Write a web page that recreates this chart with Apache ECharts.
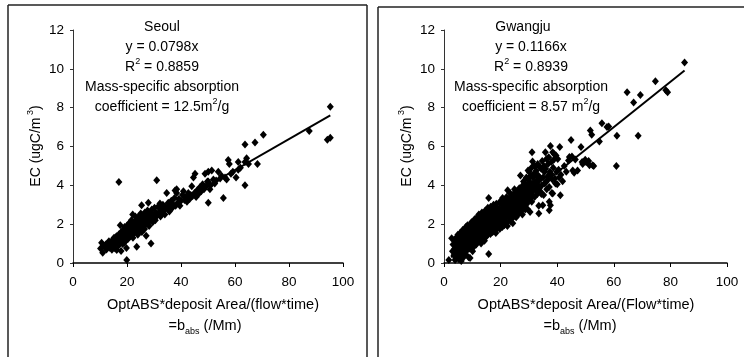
<!DOCTYPE html>
<html>
<head>
<meta charset="utf-8">
<script src="https://cdn.jsdelivr.net/npm/echarts@6/dist/echarts.min.js"></script>
<style>
html,body{margin:0;padding:0;background:#fff;}
#chart{width:744px;height:357px;}
</style>
</head>
<body>
<div id="chart"></div>
<script>
// ---- Data ----
const xTicks = [0, 20, 40, 60, 80, 100];
const yTicks = [0, 2, 4, 6, 8, 10, 12];

const seoulSlope = 0.0798;
const seoulFitRange = [10, 95.3];
const seoulPoints = [
[10.2,0.75],[10.6,1.04],[11.0,0.53],[11.3,0.9],[11.8,0.82],[12.1,0.95],[12.4,0.7],[12.8,1.0],[13.0,0.88],[13.3,1.12],
[13.6,0.78],[13.9,0.95],[14.2,1.05],[14.4,0.68],[14.7,1.2],[15.0,0.9],[15.2,1.3],[15.4,1.0],[15.6,0.75],[15.9,1.15],
[16.1,1.38],[16.2,0.67],[16.4,1.05],[16.7,1.25],[16.9,0.9],[17.0,4.17],[17.1,1.5],[17.3,1.1],[17.5,1.95],[17.6,1.32],
[17.8,0.62],[17.9,1.6],[18.1,1.2],[18.3,1.45],[18.4,0.98],[18.6,1.7],[18.8,1.3],[19.0,1.05],[19.1,1.85],[19.3,1.52],
[19.5,1.15],[19.7,1.65],[19.8,0.77],[19.9,0.15],[20.0,1.4],[20.1,1.95],[20.3,1.22],[20.4,1.75],[20.6,1.55],[20.8,2.05],
[21.0,1.35],[21.1,1.68],[21.3,1.9],[21.5,1.48],[21.6,2.2],[21.8,1.6],[22.0,1.8],[22.1,2.5],[22.2,1.3],[22.4,2.0],
[22.5,1.7],[22.7,1.55],[22.8,2.15],[23.0,1.9],[23.1,2.4],[23.3,1.65],[23.5,2.05],[23.6,0.84],[23.7,1.8],[23.9,2.25],
[24.0,1.45],[24.2,1.95],[24.3,2.4],[24.5,2.1],[24.6,1.7],[24.8,2.3],[25.0,1.85],[25.1,2.55],[25.3,2.0],[25.4,2.97],
[25.5,1.6],[25.7,2.2],[25.8,2.45],[26.0,1.95],[26.1,2.35],[26.3,2.1],[26.5,1.75],[26.6,2.6],[26.8,2.25],[27.0,2.0],
[27.1,1.4],[27.3,2.4],[27.5,2.15],[27.6,2.7],[27.9,3.1],[28.0,2.3],[28.2,1.9],[28.4,2.55],[28.6,2.2],[28.9,1.0],
[29.0,2.4],[29.2,2.75],[29.5,2.1],[29.7,2.5],[30.0,2.3],[30.2,2.85],[30.5,2.2],[30.7,2.6],
[31.0,4.26],[31.2,2.45],[31.5,2.9],[31.8,2.6],[32.2,3.06],[32.4,2.4],[32.7,2.75],[33.0,2.55],[33.3,3.0],[33.6,2.7],
[34.0,2.5],[34.3,2.9],[34.7,3.6],[35.0,2.8],[35.3,3.1],[35.7,2.65],[36.0,2.95],[36.4,3.2],[36.8,2.85],[37.2,3.0],
[37.6,3.35],[37.8,3.74],[38.0,2.95],[38.4,3.6],[38.4,3.8],[38.8,3.1],[39.2,3.3],[39.6,2.95],[40.0,3.2],[40.5,3.5],
[40.9,3.7],[41.3,3.25],[41.8,3.4],[42.2,3.15],[42.7,3.6],[43.2,3.3],[43.6,3.5],[44.0,3.95],[44.3,3.45],[44.6,4.4],
[45.0,3.6],[45.2,4.6],[45.6,3.4],[46.0,3.75],[46.5,3.55],[47.0,3.9],[47.5,3.7],[48.0,4.05],[48.5,3.8],[48.9,4.6],
[49.3,3.95],[49.8,4.2],[50.1,4.7],[50.1,4.2],[50.1,3.1],[50.7,3.8],[51.0,4.0],[51.4,4.77],[52.0,4.3],[52.5,4.1],
[53.0,4.25],[53.8,4.7],[54.5,4.35],[55.0,4.5],[55.7,3.35],[56.3,4.4],[56.9,4.3],[57.5,5.3],[57.9,5.1],[58.5,4.6],
[59.2,4.7],[60.4,4.4],[61.2,5.2],[61.2,4.8],[62.0,4.9],[63.7,5.2],[63.7,6.1],[63.7,4.0],[64.3,5.4],[65.0,5.1],
[67.4,6.2],[68.3,5.1],[70.5,6.6],[87.5,6.8],[94.2,6.35],[95.3,6.45],[95.3,8.05]
];

const gwangjuSlope = 0.1166;
const gwangjuFitRange = [2.5, 85];
const gwangjuPoints = [
[1.7,0.15],[2.7,1.27],[3.0,0.6],[3.2,0.95],[3.5,0.4],[3.6,1.18],[3.8,0.75],[3.9,0.15],[4.0,1.0],[4.1,0.5],
[4.2,0.24],[4.3,1.3],[4.4,0.8],[4.5,0.6],[4.6,1.1],[4.7,0.35],[4.8,0.9],[4.9,1.45],[5.0,0.7],[5.1,0.2],
[5.2,1.05],[5.3,0.55],[5.4,1.25],[5.5,0.85],[5.6,0.4],[5.7,1.55],[5.8,0.95],[5.9,0.65],[6.0,1.2],[6.1,0.1],
[6.2,0.8],[6.3,1.4],[6.4,0.5],[6.5,1.0],[6.6,1.7],[6.7,0.75],[6.8,1.15],[6.9,0.3],[7.0,1.35],[7.1,0.9],
[7.2,0.6],[7.3,1.6],[7.4,1.05],[7.5,0.45],[7.6,1.25],[7.7,1.85],[7.8,0.8],[7.9,1.45],[8.0,1.0],[8.1,0.65],
[8.2,1.3],[8.3,1.95],[8.4,0.9],[8.5,1.55],[8.6,1.15],[8.7,0.3],[8.8,1.7],[8.9,1.05],[9.0,1.35],[9.1,0.75],
[9.2,0.26],[9.3,1.9],[9.4,1.2],[9.5,1.5],[9.6,0.95],[9.7,2.1],[9.8,1.3],[9.9,1.7],[10.0,1.1],[10.1,0.6],
[10.2,1.45],[10.3,2.0],[10.4,1.25],[10.5,1.8],[10.6,0.85],[10.7,1.55],[10.8,2.25],[10.9,1.35],[11.0,1.0],[11.1,1.7],
[11.2,2.1],[11.3,1.45],[11.4,0.95],[11.5,1.9],[11.6,1.25],[11.7,2.35],[11.8,1.6],[11.9,1.1],[12.0,2.0],[12.1,1.4],
[12.2,1.75],[12.3,2.5],[12.4,1.2],[12.5,1.55],[12.6,2.2],[12.7,1.85],[12.8,1.35],[12.9,2.4],[13.0,1.65],[13.1,1.0],
[13.2,2.05],[13.3,1.5],[13.4,2.6],[13.5,1.8],[13.6,1.3],[13.7,2.25],[13.8,1.6],[13.9,2.0],[14.0,1.45],[14.1,2.45],
[14.2,1.75],[14.3,1.15],[14.4,2.15],[14.5,1.9],[14.6,2.7],[14.7,1.55],[14.8,2.3],[14.9,1.35],[15.0,2.0],[15.1,2.55],
[15.2,1.7],[15.3,2.2],[15.4,1.45],[15.5,2.85],[15.6,1.9],[15.7,2.4],[15.8,0.46],[15.8,3.35],[15.9,1.6],[16.0,2.1],
[16.1,2.6],[16.2,1.8],[16.3,2.35],[16.4,1.5],[16.5,2.9],[16.6,2.05],[16.7,1.7],[16.8,2.5],[16.9,2.2],[17.0,1.9],
[17.1,2.75],[17.2,1.6],[17.3,2.3],[17.4,2.05],[17.5,3.0],[17.6,1.85],[17.7,2.45],[17.8,2.15],[17.9,1.7],[18.0,2.65],
[18.1,2.9],[18.2,2.0],[18.3,1.55],[18.4,2.4],[18.5,3.05],[18.6,1.75],[18.7,2.2],[18.8,2.85],[18.9,1.9],[19.0,2.25],
[19.1,2.45],[19.2,2.6],[19.3,2.0],[19.4,1.95],[19.5,2.8],[19.6,3.1],[19.7,1.75],[19.8,2.4],[19.9,2.6],[20.0,2.1],
[20.1,3.2],[20.2,2.75],[20.3,1.95],[20.4,2.3],[20.5,2.55],[20.6,1.85],[20.7,3.35],[20.8,2.95],[20.9,2.15],[21.0,2.5],
[21.1,2.85],[21.2,3.25],[21.3,1.95],[21.4,2.2],[21.5,3.05],[21.6,2.7],[21.7,2.3],[21.8,2.45],[21.9,2.7],[22.0,3.0],
[22.1,3.4],[22.2,2.1],[22.3,2.55],[22.4,1.9],[22.5,3.75],[22.6,2.6],[22.7,3.15],[22.8,2.85],[22.9,2.35],[23.0,3.3],
[23.1,2.75],[23.2,2.4],[23.3,3.6],[23.4,2.95],[23.5,2.15],[23.6,2.7],[23.7,3.1],[23.8,3.45],[23.9,2.55],[24.0,2.3],
[24.1,3.35],[24.2,3.1],[24.3,2.05],[24.4,2.8],[24.5,3.0],[24.6,3.55],[24.7,2.4],[24.8,2.55],[24.9,3.8],[25.0,3.2],
[25.1,2.75],[25.2,2.95],[25.3,3.45],[25.4,3.7],[25.5,2.35],[25.6,2.65],[25.7,3.1],[25.8,3.35],[25.9,2.8],[26.0,3.05],
[26.1,3.65],[26.2,2.5],[26.3,2.95],[26.4,3.5],[26.5,3.25],[26.6,3.85],[26.7,2.6],[26.8,2.85],[26.9,3.55],[27.0,4.51],
[27.0,3.25],[27.1,2.95],[27.2,3.6],[27.3,3.8],[27.4,2.7],[27.5,3.15],[27.6,3.95],[27.7,2.5],[27.8,3.4],[27.9,3.6],
[28.0,3.1],[28.1,4.2],[28.2,3.75],[28.3,3.3],[28.4,2.9],[28.5,3.9],[28.6,4.1],[28.7,2.75],[28.8,3.5],[28.9,3.7],
[29.0,3.2],[29.1,4.4],[29.2,3.85],[29.3,3.05],[29.4,2.8],[29.5,4.0],[29.6,3.66],[29.7,4.77],[29.8,4.3],[29.9,3.7],
[30.0,3.35],[30.1,4.7],[30.2,3.95],[30.3,3.3],[30.4,2.63],[30.5,4.15],[30.6,4.5],[30.7,3.85],[30.8,3.6],[30.9,4.9],
[31.0,3.15],[31.1,5.71],[31.2,3.45],[31.3,5.23],[31.4,4.1],[31.5,4.4],[31.6,3.75],[31.7,3.95],[31.8,4.6],[31.9,5.0],
[32.0,3.4],[32.1,4.15],[32.3,4.97],[32.4,3.75],[32.5,4.52],[32.6,4.75],[32.7,3.9],[32.9,4.05],[33.0,3.55],[33.1,5.1],
[33.2,4.3],[33.4,4.5],[33.5,2.95],[33.5,2.55],[33.6,3.85],[33.7,4.26],[33.9,4.95],[34.0,3.7],[34.1,4.35],[34.3,4.86],
[34.4,3.55],[34.6,4.0],[34.7,5.25],[34.9,2.98],[35.0,4.4],[35.2,3.5],[35.3,5.0],[35.5,4.69],[35.6,4.1],[35.8,5.71],
[35.9,4.85],[36.0,4.17],[36.2,5.35],[36.3,3.8],[36.5,4.25],[36.6,4.45],[36.8,5.1],[37.0,5.45],[37.2,3.92],[37.2,3.15],
[37.2,2.72],[37.4,4.7],[37.6,6.02],[37.6,2.97],[37.8,4.6],[37.9,5.2],[38.1,3.6],[38.3,4.3],[38.4,5.71],[38.4,3.58],
[38.6,4.9],[38.8,5.32],[39.0,5.6],[39.2,4.35],[39.4,4.1],[39.6,5.54],[39.8,4.7],[40.0,4.05],[40.2,5.35],[40.5,4.8],
[40.7,4.4],[40.9,5.97],[41.1,3.49],[41.3,4.55],[41.9,4.21],[42.5,5.0],[43.2,4.7],[44.0,5.28],[44.3,5.46],[44.9,6.34],
[45.2,5.49],[45.5,4.77],[46.0,4.65],[46.4,5.33],[47.2,4.77],[48.4,5.97],[48.8,5.2],[49.0,5.1],[49.9,5.32],[50.2,5.2],
[51.1,5.25],[51.4,5.03],[51.7,6.82],[52.2,6.6],[52.5,5.03],[52.9,4.99],[54.9,6.26],[55.8,7.2],[57.6,7.0],[58.2,7.03],
[60.9,4.99],[61.1,6.56],[64.7,8.8],[67.0,8.27],[68.6,6.56],[69.4,8.65],[74.7,9.36],[78.4,8.9],[79.0,8.79],[85.0,10.33]
];

const seoulText = ['Seoul', 'y = 0.0798x', 'R{sup|2} = 0.8859', 'Mass-specific absorption', 'coefficient = 12.5m{sup|2}/g'];
const gwangjuText = ['Gwangju', 'y = 0.1166x', 'R{sup|2} = 0.8939', 'Mass-specific absorption', 'coefficient = 8.57 m{sup|2}/g'];
const xTitles = ['OptABS*deposit Area/(flow*time)', 'OptABS*deposit Area/(Flow*time)'];
const xTitle2 = '=b{sub|abs} (/Mm)';
const yTitle = 'EC (ugC/m{sup| 3})';

// ---- Chart ----
const FONT = '"Liberation Sans", Arial, sans-serif';
const rich = {
  sup: {fontSize: 9, lineHeight: 10, verticalAlign: 'top', fill: '#000', fontFamily: FONT},
  sub: {fontSize: 9, lineHeight: 10, verticalAlign: 'bottom', fill: '#000', fontFamily: FONT}
};
function txt(x, y, text, size, extra) {
  return Object.assign({
    type: 'text', x: x, y: y, silent: true,
    style: {text: text, fontSize: size, fontFamily: FONT, fill: '#000', align: 'center',
            verticalAlign: 'middle', lineHeight: 20, rich: rich}
  }, extra || {});
}
function ln(x1, y1, x2, y2) {
  return {type: 'line', silent: true, shape: {x1: x1, y1: y1, x2: x2, y2: y2},
          style: {stroke: '#222', lineWidth: 1.5}};
}

const graphics = [
  ln(8, 5, 367, 5), ln(8, 5, 8, 357), ln(367, 5, 367, 357),
  ln(378, 7, 744, 7), ln(378, 7, 378, 357)
];
const annY = [27, 47, 67, 87, 107];
seoulText.forEach((t, i) => graphics.push(txt(162, annY[i], t, 14)));
gwangjuText.forEach((t, i) => graphics.push(txt(i === 0 ? 523 : 531, annY[i], t, 14)));
graphics.push(txt(213, 305, xTitles[0], 14.5));
graphics.push(txt(205, 326, xTitle2, 14.5));
graphics.push(txt(586, 305, xTitles[1], 14.5));
graphics.push(txt(580, 326, xTitle2, 14.5));
graphics.push(txt(36, 146, yTitle, 14, {rotation: Math.PI / 2}));
graphics.push(txt(407, 146, yTitle, 14, {rotation: Math.PI / 2}));

function xAxis(idx) {
  return {
    type: 'value', gridIndex: idx, min: xTicks[0], max: xTicks[xTicks.length - 1], interval: 20,
    axisLine: {show: true, onZero: false, lineStyle: {color: '#000', width: 1.5}},
    axisTick: {show: true, inside: false, length: 4, lineStyle: {color: '#000'}},
    axisLabel: {color: '#000', fontSize: 13.5, fontFamily: FONT, margin: 12},
    splitLine: {show: false}
  };
}
function yAxis(idx) {
  return {
    type: 'value', gridIndex: idx, min: yTicks[0], max: yTicks[yTicks.length - 1], interval: 2,
    axisLine: {show: true, lineStyle: {color: '#333', width: 1}},
    axisTick: {show: true, inside: false, length: 3, lineStyle: {color: '#333'}},
    axisLabel: {color: '#000', fontSize: 13.5, fontFamily: FONT, margin: 9},
    splitLine: {show: false}
  };
}
function scatter(idx, data) {
  return {type: 'scatter', xAxisIndex: idx, yAxisIndex: idx, data: data,
          symbol: 'diamond', symbolSize: [7, 8], itemStyle: {color: '#000', opacity: 1}, silent: true, z: 3};
}
function fit(idx, slope, range) {
  return {type: 'line', xAxisIndex: idx, yAxisIndex: idx, symbol: 'none', silent: true, z: 4,
          data: range.map(x => [x, slope * x]),
          lineStyle: {color: '#000', width: 2}};
}

const chart = echarts.init(document.getElementById('chart'), null, {renderer: 'canvas'});
chart.setOption({
  animation: false,
  backgroundColor: '#fff',
  grid: [
    {left: 73, top: 30, width: 270, height: 233},
    {left: 444, top: 30, width: 283, height: 233}
  ],
  xAxis: [xAxis(0), xAxis(1)],
  yAxis: [yAxis(0), yAxis(1)],
  series: [
    scatter(0, seoulPoints), fit(0, seoulSlope, seoulFitRange),
    scatter(1, gwangjuPoints), fit(1, gwangjuSlope, gwangjuFitRange)
  ],
  graphic: graphics
});
</script>
</body>
</html>
